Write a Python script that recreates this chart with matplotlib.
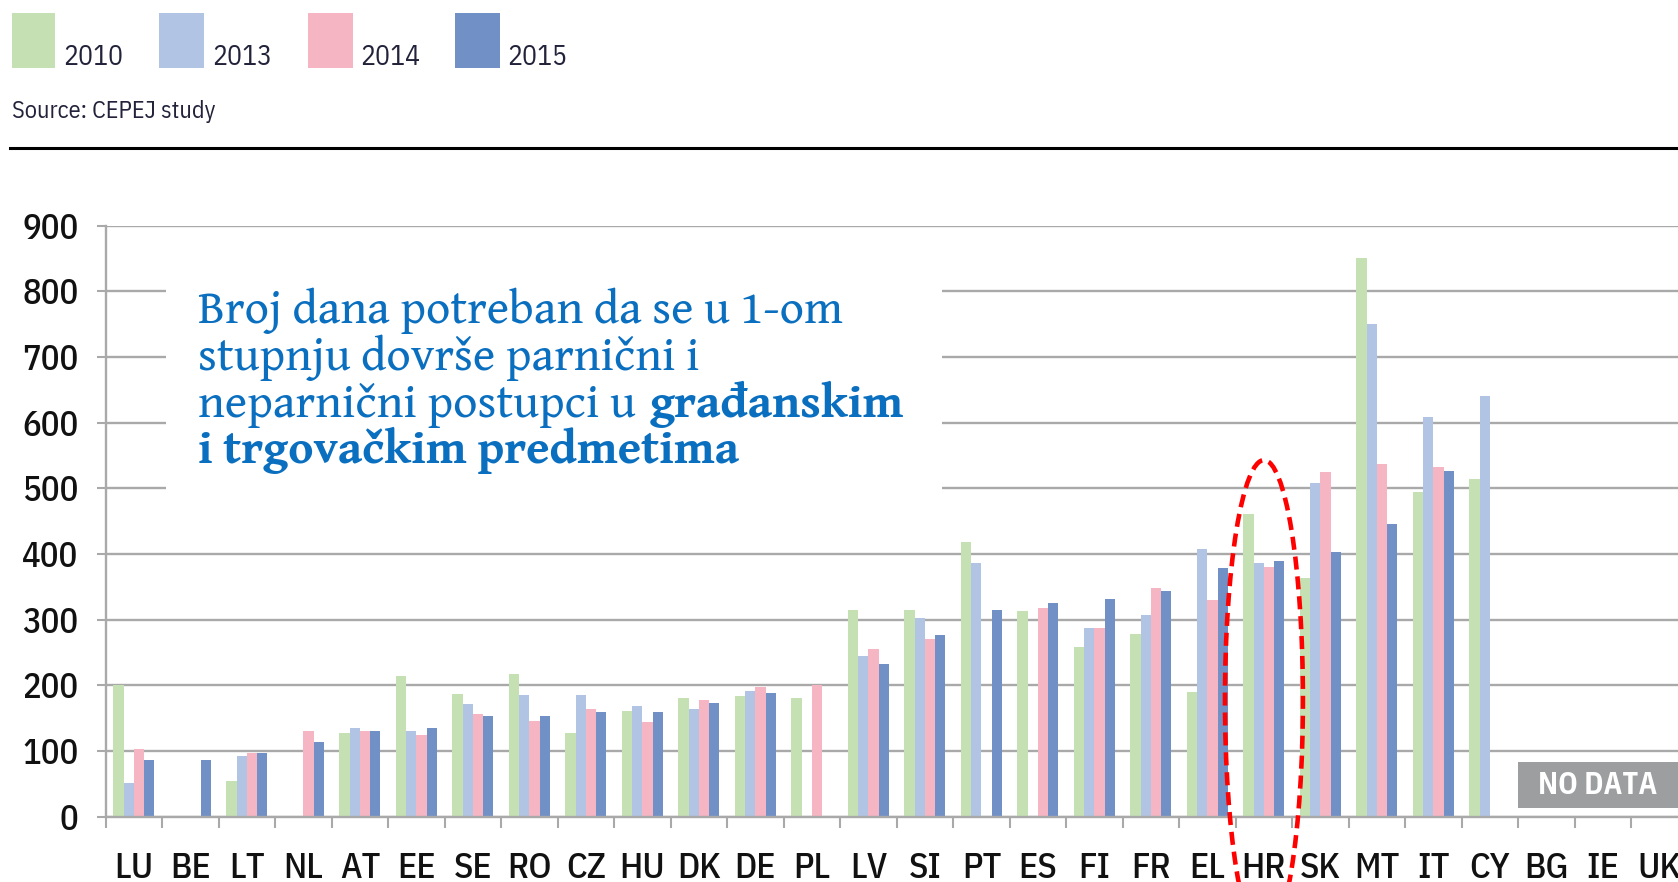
import matplotlib
matplotlib.use("Agg")
import numpy as np
import matplotlib.pyplot as plt
from matplotlib import font_manager as fm
from matplotlib.patches import Rectangle, Ellipse
from matplotlib.text import Annotation

nan = np.nan
countries = ['LU', 'BE', 'LT', 'NL', 'AT', 'EE', 'SE', 'RO', 'CZ', 'HU', 'DK', 'DE', 'PL', 'LV',
             'SI', 'PT', 'ES', 'FI', 'FR', 'EL', 'HR', 'SK', 'MT', 'IT', 'CY', 'BG', 'IE', 'UK']
years = ['2010', '2013', '2014', '2015']
v2010 = [200, nan, 55, nan, 127, 215, 187, 217, 127, 161, 181, 184, 181, 315,
         315, 418, 313, 258, 278, 190, 461, 364, 851, 494, 515, nan, nan, nan]
v2013 = [52, nan, 93, nan, 135, 130, 171, 186, 186, 169, 164, 192, nan, 245,
         302, 387, nan, 288, 307, 408, 386, 508, 751, 609, 640, nan, nan, nan]
v2014 = [103, nan, 97, 131, 130, 125, 157, 146, 164, 144, 177, 198, 201, 256,
         270, nan, 318, 288, 348, 330, 381, 525, 537, 532, nan, nan, nan, nan]
v2015 = [86, 86, 97, 114, 130, 135, 153, 153, 159, 160, 173, 189, nan, 233,
         277, 315, 325, 332, 344, 378, 390, 403, 446, 527, nan, nan, nan, nan]
series = [v2010, v2013, v2014, v2015]
colors = ['#c5e0b2', '#b2c4e3', '#f5b5c3', '#7190c6']
yticks = [0, 100, 200, 300, 400, 500, 600, 700, 800, 900]
highlight = 'HR'
title_lines = ['Broj dana potreban da se u 1-om', 'stupnju dovrše parnični i',
               'neparnični postupci u', 'građanskim', 'i trgovačkim predmetima']

# ---------- font selection ----------
def _w(v):
    if isinstance(v, str):
        return fm.weight_dict.get(v, 400)
    return int(v)

fam_weights = {}
for f in fm.fontManager.ttflist:
    fam_weights.setdefault(f.name, set()).add(_w(f.weight))

def pick(cands, default, need_bold=False):
    for c in cands:
        if c in fam_weights and (not need_bold or max(fam_weights[c]) >= 700):
            return c
    return default

sans = pick(['IBM Plex Sans Condensed', 'Liberation Sans Narrow', 'Roboto Condensed'], 'DejaVu Sans')
SANS = [sans, 'DejaVu Sans']

W, H = 1678, 882
fig = plt.figure(figsize=(W / 100, H / 100), dpi=100)
renderer = fig.canvas.get_renderer()

def measure(family, size, s, weight='normal'):
    prop = fm.FontProperties(family=family, size=size, weight=weight)
    return renderer.get_text_width_height_descent(s, prop, ismath=False)

serif_cands = ['EB Garamond', 'Cardo', 'Sorts Mill Goudy', 'OFL Sorts Mill Goudy TT', 'Libre Caslon Text',
               'Crimson Text', 'Crimson Pro', 'Cormorant Garamond', 'Gentium Book Plus', 'Libre Baskerville',
               'Spectral', 'Liberation Serif']
target_w, target_cap = 669.0, 26.7
best = None
for c in serif_cands:
    if c in fam_weights and max(fam_weights[c]) >= 700:
        w1 = measure(c, 20, title_lines[0])[0]
        hc = measure(c, 20, 'H')[1]
        if w1 <= 0 or hc <= 0:
            continue
        score = abs(np.log((w1 / hc) / (target_w / target_cap)))
        if best is None or score < best[0]:
            best = (score, c, w1, hc)
if best is None:
    serif = 'DejaVu Serif'
    w1 = measure(serif, 20, title_lines[0])[0]
    hc = measure(serif, 20, 'H')[1]
else:
    _, serif, w1, hc = best
SERIF = [serif, 'DejaVu Serif']
tfs = 20 * (target_w / w1) ** 0.7 * (target_cap / hc) ** 0.3

def fx(px):
    return px / W

def fy(py):
    return 1 - py / H

ax_left, ax_right, ax_top, ax_bottom = 105.7, 1687.7, 225.7, 816.7
ax = fig.add_axes([fx(ax_left), fy(ax_bottom), (ax_right - ax_left) / W, (ax_bottom - ax_top) / H])

n = len(countries)
x = np.arange(n)
bw = 0.1815
for k, (vals, col) in enumerate(zip(series, colors)):
    ax.bar(x + (k - 1.5) * bw, vals, width=bw, color=col, linewidth=0, zorder=2)

grid_col = '#a9a9a9'
lab_col = '#111111'
ax.set_xlim(-0.5, n - 0.5)
ax.set_ylim(0, 900)
ax.set_yticks(yticks)
ax.set_yticklabels([str(t) for t in yticks], family=SANS, fontsize=25, color=lab_col, weight='medium')
ax.set_xticks(x)
ax.set_xticklabels(countries, family=SANS, fontsize=26, color=lab_col, weight='medium')
ax.set_xticks(np.arange(n + 1) - 0.5, minor=True)
ax.tick_params(axis='x', which='major', length=0, pad=25.5)
ax.tick_params(axis='x', which='minor', length=8, width=1.5, color=grid_col, direction='out')
ax.tick_params(axis='y', which='major', length=6.5, width=1.5, color=grid_col, pad=13)
ax.yaxis.grid(True, color=grid_col, linewidth=1.7, zorder=0.5)
ax.set_axisbelow(True)
for s in ['top', 'right']:
    ax.spines[s].set_visible(False)
for s in ['left', 'bottom']:
    ax.spines[s].set_color(grid_col)
    ax.spines[s].set_linewidth(1.7)

# white text box covering gridlines
bx0, bx1, by0, by1 = 166, 942, 240, 520
ax.add_patch(Rectangle((fx(bx0), fy(by1)), fx(bx1) - fx(bx0), fy(by0) - fy(by1),
                       transform=fig.transFigure, facecolor='white', edgecolor='none', zorder=1.5))

# red dashed ellipse around highlighted country
hi = countries.index(highlight)
ell = Ellipse((hi, 178), width=1.38, height=730, facecolor='none', edgecolor='#ff0000',
              linewidth=3.3, linestyle=(0, (2.85, 1.5)), zorder=5, clip_on=False)
ax.add_patch(ell)

# legend at top
sq = [(11.5, 54.7), (158.8, 203.6), (308, 353), (455, 500)]
tx = [63, 212, 360, 507]
txt_col = '#22223a'
for (a, b), t, lab, col in zip(sq, tx, years, colors):
    fig.patches.append(Rectangle((fx(a), fy(67.7)), fx(b) - fx(a), fy(12.7) - fy(67.7),
                                 transform=fig.transFigure, facecolor=col, edgecolor='none'))
    fig.text(fx(t), fy(65), lab, family=SANS, fontsize=20, color=txt_col, va='baseline', ha='left')

fig.text(fx(11.5), fy(118), 'Source: CEPEJ study', family=SANS, fontsize=17.5, color=txt_col,
         va='baseline', ha='left')
fig.add_artist(plt.Line2D([fx(10), 1.0], [fy(148), fy(148)], transform=fig.transFigure,
                          color='black', linewidth=2.2))

# title text inside the chart
tcol = '#0b6fc0'
lx = fx(198)
gap = 0.3 * tfs * 100 / 72
fig.text(lx, fy(323), title_lines[0], family=SERIF, fontsize=tfs, color=tcol, va='baseline')
fig.text(lx, fy(370), title_lines[1], family=SERIF, fontsize=tfs, color=tcol, va='baseline')
t3 = fig.text(lx, fy(417), title_lines[2], family=SERIF, fontsize=tfs, color=tcol, va='baseline')
fig.add_artist(Annotation(title_lines[3], xy=(1, 0), xycoords=t3, xytext=(gap, 0), textcoords='offset pixels',
                          family=SERIF, fontsize=tfs, color=tcol, weight='bold', va='bottom', ha='left'))
fig.text(lx, fy(463), title_lines[4], family=SERIF, fontsize=tfs, color=tcol, va='baseline',
         weight='bold')

# NO DATA label
fig.patches.append(Rectangle((fx(1518), fy(808)), fx(1690) - fx(1518), fy(762) - fy(808),
                             transform=fig.transFigure, facecolor='#9d9ea0', edgecolor='none', zorder=3))
fig.text(fx(1598), fy(785), 'NO DATA', family=SANS, fontsize=22, color='white', weight='bold',
         ha='center', va='center', zorder=4)

fig.savefig('out.png', dpi=100)
